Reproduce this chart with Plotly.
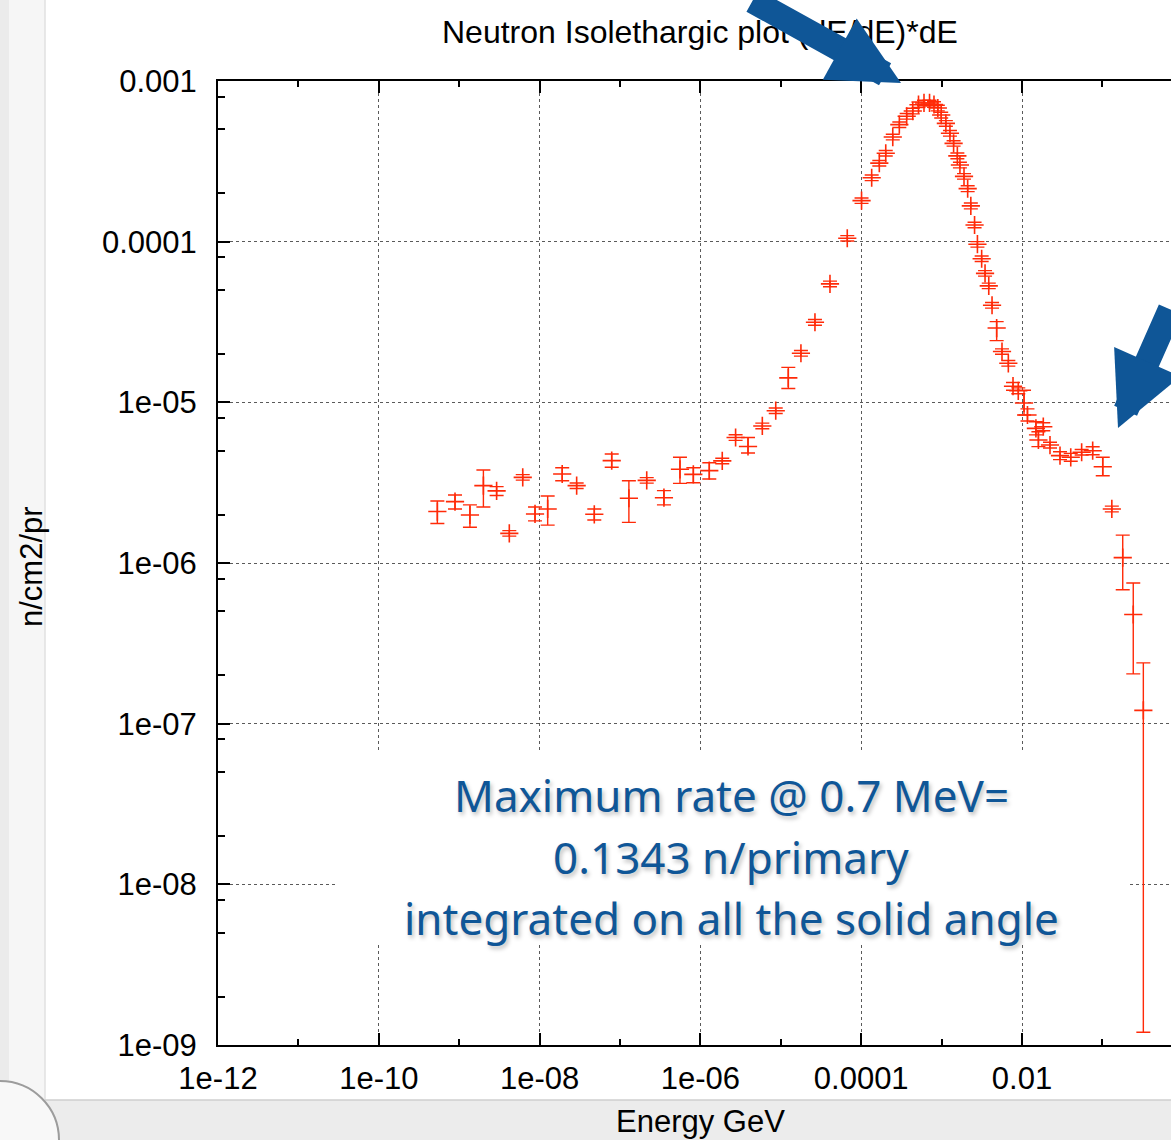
import plotly.graph_objects as go

# ---------------- data ----------------
energy = [5.35e-10, 8.87e-10, 1.36e-9, 2.00e-9, 2.92e-9, 4.20e-9, 6.17e-9, 8.77e-9,
          1.26e-8, 1.91e-8, 2.89e-8, 4.79e-8, 7.89e-8, 1.29e-7, 2.15e-7, 3.52e-7,
          5.57e-7, 8.17e-7, 1.29e-6, 1.87e-6, 2.74e-6, 3.91e-6, 5.89e-6, 8.65e-6,
          1.24e-5, 1.78e-5, 2.66e-5, 4.09e-5, 6.71e-5, 1.01e-4, 1.35e-4, 1.68e-4,
          2.02e-4, 2.47e-4, 2.98e-4, 3.68e-4, 4.38e-4, 5.16e-4, 6.04e-4, 7.08e-4,
          8.04e-4, 8.98e-4, 9.89e-4, 1.13e-3, 1.27e-3, 1.41e-3, 1.57e-3, 1.69e-3,
          1.90e-3, 2.11e-3, 2.31e-3, 2.57e-3, 2.79e-3, 3.15e-3, 3.47e-3, 3.86e-3,
          4.24e-3, 4.84e-3, 5.64e-3, 6.76e-3, 7.73e-3, 8.99e-3, 1.06e-2, 1.17e-2,
          1.49e-2, 1.60e-2, 1.84e-2, 2.23e-2, 2.97e-2, 4.04e-2, 5.52e-2, 7.57e-2,
          0.101, 0.131, 0.179, 0.242, 0.323]

flux = [2.09e-6, 2.41e-6, 1.99e-6, 3.03e-6, 2.81e-6, 1.53e-6, 3.41e-6, 2.02e-6,
        2.17e-6, 3.58e-6, 3.03e-6, 2.01e-6, 4.34e-6, 2.53e-6, 3.27e-6, 2.55e-6,
        3.83e-6, 3.56e-6, 3.76e-6, 4.32e-6, 6.04e-6, 5.31e-6, 7.13e-6, 8.87e-6,
        1.42e-5, 2.02e-5, 3.15e-5, 5.46e-5, 1.05e-4, 1.80e-4, 2.50e-4, 3.08e-4,
        3.55e-4, 4.48e-4, 5.35e-4, 6.03e-4, 6.50e-4, 7.12e-4, 7.30e-4, 7.30e-4,
        7.14e-4, 6.79e-4, 6.14e-4, 5.45e-4, 4.73e-4, 4.09e-4, 3.42e-4, 3.00e-4,
        2.55e-4, 2.14e-4, 1.67e-4, 1.27e-4, 9.64e-5, 7.83e-5, 6.35e-5, 5.31e-5,
        4.02e-5, 2.90e-5, 2.07e-5, 1.75e-5, 1.26e-5, 1.18e-5, 9.91e-6, 8.34e-6,
        6.89e-6, 5.83e-6, 7.05e-6, 5.42e-6, 4.66e-6, 4.55e-6, 4.89e-6, 5.00e-6,
        3.97e-6, 2.17e-6, 1.08e-6, 4.78e-7, 1.21e-7]

flux_lo = [1.76e-6, 2.17e-6, 1.67e-6, 2.23e-6, 2.63e-6, 1.47e-6, 3.28e-6, 1.83e-6,
           1.72e-6, 3.25e-6, 2.91e-6, 1.85e-6, 3.94e-6, 1.79e-6, 3.14e-6, 2.30e-6,
           3.13e-6, 3.16e-6, 3.33e-6, 4.15e-6, 5.80e-6, 4.84e-6, 6.85e-6, 8.52e-6,
           1.22e-5, 1.94e-5, 3.02e-5, 5.24e-5, 1.01e-4, 1.73e-4, 2.40e-4, 2.96e-4,
           3.41e-4, 4.30e-4, 5.14e-4, 5.79e-4, 6.24e-4, 6.84e-4, 7.01e-4, 7.01e-4,
           6.85e-4, 6.52e-4, 5.89e-4, 5.23e-4, 4.54e-4, 3.93e-4, 3.28e-4, 2.88e-4,
           2.45e-4, 2.05e-4, 1.60e-4, 1.22e-4, 9.25e-5, 7.52e-5, 6.10e-5, 5.10e-5,
           3.86e-5, 2.42e-5, 1.99e-5, 1.68e-5, 1.19e-5, 1.13e-5, 8.34e-6, 7.65e-6,
           6.27e-6, 5.30e-6, 6.66e-6, 5.20e-6, 4.40e-6, 4.30e-6, 4.70e-6, 4.72e-6,
           3.49e-6, 2.08e-6, 6.81e-7, 2.04e-7, 1.2e-9]

flux_hi = [2.43e-6, 2.65e-6, 2.30e-6, 3.79e-6, 2.99e-6, 1.59e-6, 3.55e-6, 2.23e-6,
           2.61e-6, 3.92e-6, 3.15e-6, 2.17e-6, 4.77e-6, 3.25e-6, 3.40e-6, 2.82e-6,
           4.55e-6, 3.92e-6, 4.21e-6, 4.49e-6, 6.28e-6, 6.04e-6, 7.42e-6, 9.22e-6,
           1.65e-5, 2.10e-5, 3.28e-5, 5.68e-5, 1.09e-4, 1.87e-4, 2.60e-4, 3.20e-4,
           3.69e-4, 4.66e-4, 5.56e-4, 6.27e-4, 6.76e-4, 7.40e-4, 7.59e-4, 7.59e-4,
           7.43e-4, 7.06e-4, 6.39e-4, 5.67e-4, 4.92e-4, 4.25e-4, 3.56e-4, 3.12e-4,
           2.65e-4, 2.23e-4, 1.74e-4, 1.32e-4, 1.00e-4, 8.14e-5, 6.60e-5, 5.52e-5,
           4.18e-5, 3.18e-5, 2.15e-5, 1.82e-5, 1.33e-5, 1.23e-5, 1.19e-5, 9.10e-6,
           7.57e-6, 6.56e-6, 7.46e-6, 5.64e-6, 4.93e-6, 4.81e-6, 5.09e-6, 5.29e-6,
           4.55e-6, 2.26e-6, 1.49e-6, 7.51e-7, 2.39e-7]

x_tick_vals = [1e-12, 1e-10, 1e-8, 1e-6, 1e-4, 1e-2, 1]
x_tick_text = ["1e-12", "1e-10", "1e-08", "1e-06", "0.0001", "0.01", "1"]
x_minor_vals = [1e-11, 1e-9, 1e-7, 1e-5, 1e-3, 1e-1]
y_tick_vals = [1e-9, 1e-8, 1e-7, 1e-6, 1e-5, 1e-4, 1e-3]
y_tick_text = ["1e-09", "1e-08", "1e-07", "1e-06", "1e-05", "0.0001", "0.001"]
y_minor_vals = [m * 10.0 ** e for e in range(-9, -3) for m in (2, 5, 8)]

title_text = "Neutron Isolethargic plot (dE/dE)*dE"
x_title = "Energy GeV"
y_title = "n/cm2/pr"
note_lines = ["Maximum rate @ 0.7 MeV=", "0.1343 n/primary",
              "integrated on all the solid angle"]

# ---------------- figure ----------------
RED = "#ff2a08"
BLUE = "#0f5697"
FONT = "Liberation Sans, Arial, sans-serif"

err_plus = [h - f for h, f in zip(flux_hi, flux)]
err_minus = [f - l for f, l in zip(flux, flux_lo)]

fig = go.Figure()
fig.add_trace(go.Scatter(
    x=energy, y=flux, mode="markers",
    marker=dict(symbol="cross-thin", size=13, color=RED,
                line=dict(color=RED, width=1.6)),
    error_y=dict(type="data", symmetric=False, array=err_plus,
                 arrayminus=err_minus, color=RED, thickness=1.4, width=7),
    showlegend=False, hoverinfo="x+y",
))

W, H = 1171, 1140
L, R, T, B = 218, 0, 81, 95
pw, ph = W - L - R, H - T - B


def px(xp):
    return (xp - L) / pw


def py(yp):
    return (H - B - yp) / ph


axis_common = dict(
    showline=True, linecolor="black", linewidth=2,
    ticks="inside", ticklen=12, tickwidth=2, tickcolor="black",
    showgrid=True, gridcolor="#5a5a5a", gridwidth=1, griddash="dot",
    tickfont=dict(family=FONT, size=31, color="black"),
    zeroline=False,
)

fig.update_xaxes(
    type="log", range=[-12, -12 + pw / 80.4],
    tickmode="array", tickvals=x_tick_vals, ticktext=x_tick_text,
    mirror="allticks", ticklabelstandoff=5,
    minor=dict(tickmode="array", tickvals=x_minor_vals, ticks="inside",
               ticklen=6, tickwidth=2, tickcolor="black", showgrid=False),
    **axis_common,
)
fig.update_yaxes(
    type="log", range=[-9, -3],
    tickmode="array", tickvals=y_tick_vals, ticktext=y_tick_text,
    mirror=False, ticklabelstandoff=13,
    minor=dict(tickmode="array", tickvals=y_minor_vals, ticks="inside",
               ticklen=7, tickwidth=2, tickcolor="black", showgrid=False),
    **axis_common,
)

shapes = [
    # slide frame decorations
    dict(type="rect", xref="paper", yref="paper", layer="below",
         x0=px(0), x1=px(45), y0=py(H + 5), y1=py(-5),
         fillcolor="#f6f6f6", line=dict(width=0)),
    dict(type="rect", xref="paper", yref="paper", layer="below",
         x0=px(0), x1=px(9), y0=py(H + 5), y1=py(-5),
         fillcolor="#ebebeb", line=dict(width=0)),
    dict(type="line", xref="paper", yref="paper", layer="below",
         x0=px(45), x1=px(45), y0=py(1100), y1=py(-5),
         line=dict(color="#e0e0e0", width=1.5)),
    dict(type="rect", xref="paper", yref="paper", layer="below",
         x0=px(0), x1=px(W + 5), y0=py(H + 5), y1=py(1100),
         fillcolor="#ececec", line=dict(width=0)),
    dict(type="line", xref="paper", yref="paper", layer="below",
         x0=px(45), x1=px(W + 5), y0=py(1100), y1=py(1100),
         line=dict(color="#cfcfcf", width=1.5)),
    dict(type="circle", xref="paper", yref="paper", layer="below",
         x0=px(-59), x1=px(59), y0=py(H + 59), y1=py(H - 59),
         fillcolor="#f8f8f8", line=dict(color="#9c9c9c", width=2)),
    # white box behind the note text
    dict(type="rect", xref="paper", yref="paper", layer="above",
         x0=px(335), x1=px(1127), y0=py(945), y1=py(750),
         fillcolor="white", line=dict(width=0)),
]

annotations = [
    dict(text=title_text, xref="paper", yref="paper", x=px(700), y=py(32),
         xanchor="center", yanchor="middle", showarrow=False,
         font=dict(family=FONT, size=32, color="black")),
    dict(text=y_title, xref="paper", yref="paper", x=px(31), y=py(567),
         xanchor="center", yanchor="middle", showarrow=False, textangle=-90,
         font=dict(family=FONT, size=31, color="black")),
    dict(text=x_title, xref="paper", yref="paper", x=px(700), y=py(1121),
         xanchor="center", yanchor="middle", showarrow=False,
         font=dict(family=FONT, size=31, color="black")),
]
for txt, yy in zip(note_lines, [795, 857, 918]):
    annotations.append(dict(
        text=txt, xref="paper", yref="paper", x=px(731), y=py(yy),
        xanchor="center", yanchor="middle", showarrow=False,
        font=dict(family="Noto Sans, sans-serif", size=44, color=BLUE,
                  shadow="2px 3px 4px rgba(0,0,0,0.25)")))

# blue call-out arrows
annotations.append(dict(
    text="", xref="paper", yref="paper", x=px(901), y=py(83),
    ax=-150, ay=-106, showarrow=True, arrowhead=2, arrowsize=0.56,
    arrowwidth=25, arrowcolor=BLUE, standoff=0))
annotations.append(dict(
    text="", xref="paper", yref="paper", x=px(1118), y=py(428),
    ax=105, ay=-120, showarrow=True, arrowhead=2, arrowsize=0.58,
    arrowwidth=25, arrowcolor=BLUE, standoff=0))

fig.update_layout(
    width=W, height=H,
    margin=dict(l=L, r=R, t=T, b=B, autoexpand=False),
    paper_bgcolor="white", plot_bgcolor="white",
    shapes=shapes, annotations=annotations,
    showlegend=False,
)

fig.write_html("out.html")
